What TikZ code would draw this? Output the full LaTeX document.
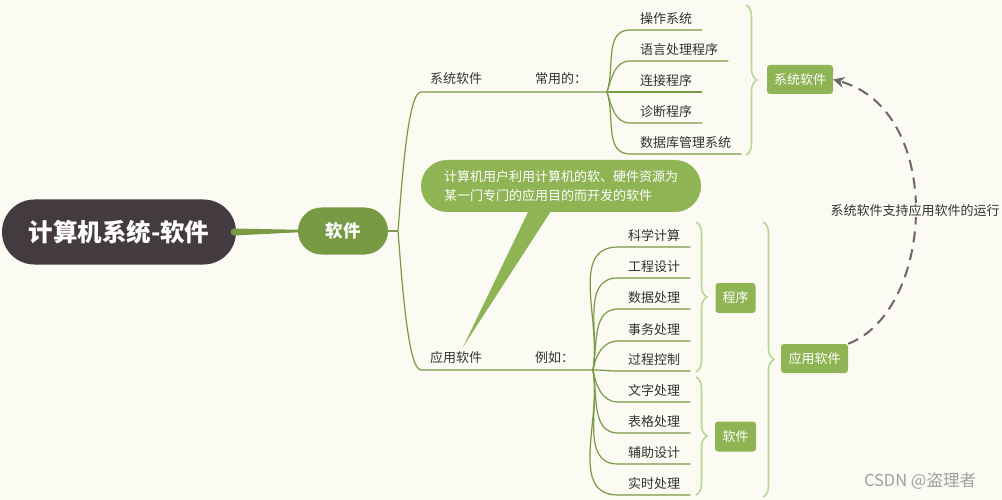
\documentclass[tikz,border=0pt]{standalone}
\usepackage{fontspec}
\setmainfont{Noto Sans CJK SC}
\usetikzlibrary{decorations.pathreplacing,arrows.meta,shapes.misc,calc}
\definecolor{bgc}{RGB}{251,250,243}
\definecolor{darkc}{RGB}{67,59,63}
\definecolor{olivec}{RGB}{120,154,69}
\definecolor{branchc}{RGB}{122,154,69}
\definecolor{boxc}{RGB}{142,180,84}
\definecolor{bracec}{RGB}{184,216,149}
\definecolor{arrowc}{RGB}{111,102,106}
\definecolor{textc}{RGB}{51,51,51}
\definecolor{markc}{RGB}{160,160,160}
\begin{document}
\begin{tikzpicture}[x=1pt,y=-1pt,
  branch/.style={draw=branchc,line width=1.2pt},
  leaf/.style={font=\fontsize{13}{15}\selectfont,text=textc,inner xsep=10pt,inner ysep=5.5pt,anchor=south west},
  lbl/.style={font=\fontsize{13}{15}\selectfont,text=textc,inner sep=0pt,anchor=west},
  gbox/.style={fill=boxc,rounded corners=3pt,text=white,font=\fontsize{13}{15}\selectfont,inner sep=0pt},
  brc/.style={draw=bracec,line width=1.6pt,decorate,decoration={brace,amplitude=11pt}}]
\useasboundingbox (0,0) rectangle (1002,500);
\fill[bgc] (0,0) rectangle (1002,500);

% root and main node
\node[rounded rectangle,fill=darkc,minimum width=234pt,minimum height=65pt,inner sep=0pt,
  font=\fontsize{24.5}{26}\selectfont\bfseries,text=white] (root) at (119,232) {计算机系统-软件};
\node[rounded rectangle,fill=olivec,minimum width=90pt,minimum height=47pt,inner sep=0pt,
  font=\fontsize{17.5}{19}\selectfont\bfseries,text=white] (sw) at (343,231) {软件};
\fill[branchc] ($(root.east)+(-2,-3.5)$) -- ($(sw.west)+(3,-1.2)$) -- ($(sw.west)+(3,1.2)$) -- ($(root.east)+(-2,3.5)$) -- cycle;
\fill[branchc] ($(root.east)+(-2,0)$) circle (3.5);

% hub and two branches
\coordinate (hub) at (398,231);
\coordinate (s0) at (421,92);
\coordinate (s1) at (607,92);
\coordinate (a0) at (421,370);
\coordinate (a1) at (593,370);
\draw[branch] (sw.east) -- (hub);
\draw[branch] (hub) .. controls (402,180) and (408,92) .. (s0) -- (s1);
\draw[branch] (hub) .. controls (402,282) and (408,370) .. (a0) -- (a1);
\node[lbl] (t1) at (430,79) {系统软件};
\node[lbl] (t2) at (535,79) {常用的：};
\node[lbl] (t3) at (430,358) {应用软件};
\node[lbl] (t4) at (535,358) {例如：};

% system software leaves
\foreach \n/\y/\t in {c1/30/操作系统,c2/61/语言处理程序,c3/92/连接程序,c4/123/诊断程序,c5/154/数据库管理系统}{
  \node[leaf] (\n) at (630,\y) {\t};
  \draw[branch] (s1) to[out={\y<92 ? 72 : (\y>92 ? -72 : 0)},in=180] (\n.south west) -- (\n.south east);
}
% application leaves
\foreach \n/\y/\t in {d1/247/科学计算,d2/278/工程设计,d3/309/数据处理,d4/341/事务处理,d5/371/过程控制,d6/402/文字处理,d7/433/表格处理,d8/464/辅助设计,d9/495/实时处理}{
  \node[leaf] (\n) at (618,\y) {\t};
  \draw[branch] (a1) to[out={\y<369 ? 80 : (\y>372 ? -80 : 0)},in=180] (\n.south west) -- (\n.south east);
}

% braces
\draw[brc] (746,5) -- (746,155);
\draw[brc] (696,222) -- (696,372);
\draw[brc] (696,377) -- (696,495);
\draw[brc] (763,222) -- (763,497);

% group boxes
\node[gbox,minimum width=66pt,minimum height=29pt] (gs) at (800,79.5) {系统软件};
\node[gbox,minimum width=40pt,minimum height=30pt] (gp) at (735.5,298) {程序};
\node[gbox,minimum width=41pt,minimum height=30pt] (gr) at (735.5,436.5) {软件};
\node[gbox,minimum width=67pt,minimum height=29pt] (ga) at (814.5,358.5) {应用软件};

% speech bubble
\coordinate (tailtip) at (463,347);
\fill[boxc] (530,208) -- (553,208) -- (tailtip) -- cycle;
\node[rounded rectangle,fill=boxc,minimum width=280pt,minimum height=52pt,inner sep=0pt,
  text=white,font=\fontsize{13}{19}\selectfont,align=left] (bub) at (561,186)
  {计算机用户利用计算机的软、硬件资源为\\某一门专门的应用目的而开发的软件};

% dashed relation
\draw[arrowc,line width=2pt,dash pattern=on 11pt off 7pt,-{Stealth[length=11pt,width=11pt]}]
  (ga.north east) .. controls (935,310) and (945,110) .. (gs.east)
  node[pos=0.5,fill=bgc,inner sep=1pt,text=textc,font=\fontsize{13}{15}\selectfont] (rel) {系统软件支持应用软件的运行};

% watermark
\node[text=markc,font=\fontsize{16.5}{18}\selectfont,inner sep=0pt] (wm) at (920,481) {CSDN @盗理者};
\end{tikzpicture}
\end{document}
